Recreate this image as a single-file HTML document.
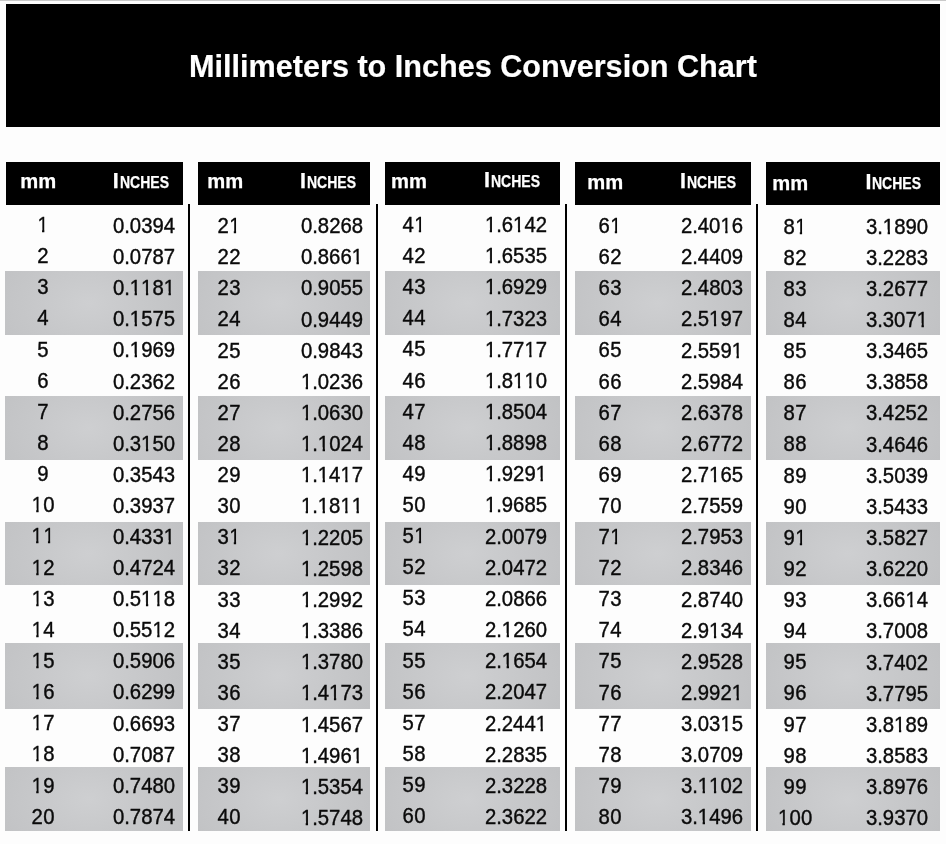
<!DOCTYPE html>
<html><head><meta charset="utf-8"><title>Millimeters to Inches Conversion Chart</title>
<style>
html,body{margin:0;padding:0;}
body{width:946px;height:844px;background:#fdfdfd;position:relative;overflow:hidden;font-family:"Liberation Sans",sans-serif;color:#0a0a0a;}
.a{position:absolute;}
.topline{left:0;top:0;width:946px;height:1px;background:#c9c9c9;}
.banner{left:6px;top:4px;width:934px;height:122.6px;background:#000;}
.title{left:0;top:45.8px;width:946px;text-align:center;color:#fff;font-weight:bold;-webkit-text-stroke:0.2px #fff;font-size:30.6px;line-height:40px;white-space:nowrap;}
.hd{background:#000;top:162px;height:42.7px;}
.band{background:radial-gradient(ellipse 68% 125% at 47% 50%,#cecfd1 0%,#c6c7c9 50%,#bfc0c2 100%);}
.vl{background:#000;width:2px;top:204.1px;height:627.2px;}
.t{font-size:21.6px;line-height:30px;height:30px;white-space:nowrap;-webkit-text-stroke:0.4px #0a0a0a;}
.m{text-align:center;width:60px;letter-spacing:0.3px;text-indent:0.3px;transform:scaleX(0.94);transform-origin:50% 50%;}
.i{text-align:right;width:90px;transform:scaleX(0.94);transform-origin:100% 50%;}
.o{display:inline-block;clip-path:polygon(0 0,0.352em 0,0.352em 100%,0.238em 100%,0.238em 60%,0 60%);}
.h{color:#fff;font-weight:bold;-webkit-text-stroke:0.25px #fff;line-height:30px;height:30px;white-space:nowrap;}
.hm{font-size:20.2px;}
.hi{font-size:21.5px;}
.sc{font-size:15.7px;transform:scaleX(0.893);transform-origin:0 50%;}
#w{position:absolute;left:0;top:0;width:946px;height:844px;will-change:transform;}
</style></head><body><div id="w">
<div class="a topline"></div>
<div class="a banner"></div>
<div class="a title">Millimeters to Inches Conversion Chart</div>

<div class="a hd" style="left:6px;width:176.9px"></div>
<div class="a band" style="left:5px;width:177.9px;top:271.2px;height:63.6px"></div>
<div class="a band" style="left:5px;width:177.9px;top:396px;height:63.6px"></div>
<div class="a band" style="left:5px;width:177.9px;top:521.9px;height:63.6px"></div>
<div class="a band" style="left:5px;width:177.9px;top:642.9px;height:65.7px"></div>
<div class="a band" style="left:5px;width:177.9px;top:767.1px;height:64.4px"></div>
<div class="a h hm" style="left:20.20px;top:166.10px">mm</div>
<div class="a h hi" style="left:112.70px;top:165.65px">I</div>
<div class="a h sc" style="left:119.50px;top:167.66px">NCHES</div>
<div class="a t m" style="left:12.6px;top:210.02px"><span class="o">1</span></div>
<div class="a t i" style="left:85.3px;top:211.02px">0.0394</div>
<div class="a t m" style="left:12.6px;top:241.16px">2</div>
<div class="a t i" style="left:85.3px;top:242.11px">0.0787</div>
<div class="a t m" style="left:12.6px;top:272.31px">3</div>
<div class="a t i" style="left:85.3px;top:273.21px">0.<span class="o">1</span><span class="o">1</span>8<span class="o">1</span></div>
<div class="a t m" style="left:12.6px;top:303.45px">4</div>
<div class="a t i" style="left:85.3px;top:304.31px">0.<span class="o">1</span>575</div>
<div class="a t m" style="left:12.6px;top:334.59px">5</div>
<div class="a t i" style="left:85.3px;top:335.41px">0.<span class="o">1</span>969</div>
<div class="a t m" style="left:12.6px;top:365.74px">6</div>
<div class="a t i" style="left:85.3px;top:366.50px">0.2362</div>
<div class="a t m" style="left:12.6px;top:396.88px">7</div>
<div class="a t i" style="left:85.3px;top:397.60px">0.2756</div>
<div class="a t m" style="left:12.6px;top:428.03px">8</div>
<div class="a t i" style="left:85.3px;top:428.70px">0.3<span class="o">1</span>50</div>
<div class="a t m" style="left:12.6px;top:459.17px">9</div>
<div class="a t i" style="left:85.3px;top:459.79px">0.3543</div>
<div class="a t m" style="left:12.6px;top:490.32px"><span class="o">1</span>0</div>
<div class="a t i" style="left:85.3px;top:490.89px">0.3937</div>
<div class="a t m" style="left:12.6px;top:521.46px"><span class="o">1</span><span class="o">1</span></div>
<div class="a t i" style="left:85.3px;top:521.99px">0.433<span class="o">1</span></div>
<div class="a t m" style="left:12.6px;top:552.61px"><span class="o">1</span>2</div>
<div class="a t i" style="left:85.3px;top:553.09px">0.4724</div>
<div class="a t m" style="left:12.6px;top:583.75px"><span class="o">1</span>3</div>
<div class="a t i" style="left:85.3px;top:584.18px">0.5<span class="o">1</span><span class="o">1</span>8</div>
<div class="a t m" style="left:12.6px;top:614.90px"><span class="o">1</span>4</div>
<div class="a t i" style="left:85.3px;top:615.28px">0.55<span class="o">1</span>2</div>
<div class="a t m" style="left:12.6px;top:646.04px"><span class="o">1</span>5</div>
<div class="a t i" style="left:85.3px;top:646.38px">0.5906</div>
<div class="a t m" style="left:12.6px;top:677.19px"><span class="o">1</span>6</div>
<div class="a t i" style="left:85.3px;top:677.48px">0.6299</div>
<div class="a t m" style="left:12.6px;top:708.33px"><span class="o">1</span>7</div>
<div class="a t i" style="left:85.3px;top:708.57px">0.6693</div>
<div class="a t m" style="left:12.6px;top:739.48px"><span class="o">1</span>8</div>
<div class="a t i" style="left:85.3px;top:739.67px">0.7087</div>
<div class="a t m" style="left:12.6px;top:770.62px"><span class="o">1</span>9</div>
<div class="a t i" style="left:85.3px;top:770.77px">0.7480</div>
<div class="a t m" style="left:12.6px;top:801.77px">20</div>
<div class="a t i" style="left:85.3px;top:801.87px">0.7874</div>
<div class="a hd" style="left:198.1px;width:171.9px"></div>
<div class="a band" style="left:198.1px;width:171.9px;top:271.2px;height:63.6px"></div>
<div class="a band" style="left:198.1px;width:171.9px;top:396px;height:63.6px"></div>
<div class="a band" style="left:198.1px;width:171.9px;top:521.9px;height:63.6px"></div>
<div class="a band" style="left:198.1px;width:171.9px;top:642.9px;height:65.7px"></div>
<div class="a band" style="left:198.1px;width:171.9px;top:767.1px;height:64.4px"></div>
<div class="a h hm" style="left:207.20px;top:166.40px">mm</div>
<div class="a h hi" style="left:300.10px;top:165.95px">I</div>
<div class="a h sc" style="left:306.90px;top:167.96px">NCHES</div>
<div class="a t m" style="left:199px;top:211.02px">2<span class="o">1</span></div>
<div class="a t i" style="left:272.7px;top:211.02px">0.8268</div>
<div class="a t m" style="left:199px;top:242.14px">22</div>
<div class="a t i" style="left:272.7px;top:242.18px">0.866<span class="o">1</span></div>
<div class="a t m" style="left:199px;top:273.27px">23</div>
<div class="a t i" style="left:272.7px;top:273.34px">0.9055</div>
<div class="a t m" style="left:199px;top:304.40px">24</div>
<div class="a t i" style="left:272.7px;top:304.50px">0.9449</div>
<div class="a t m" style="left:199px;top:335.53px">25</div>
<div class="a t i" style="left:272.7px;top:335.66px">0.9843</div>
<div class="a t m" style="left:199px;top:366.66px">26</div>
<div class="a t i" style="left:272.7px;top:366.82px"><span class="o">1</span>.0236</div>
<div class="a t m" style="left:199px;top:397.79px">27</div>
<div class="a t i" style="left:272.7px;top:397.98px"><span class="o">1</span>.0630</div>
<div class="a t m" style="left:199px;top:428.92px">28</div>
<div class="a t i" style="left:272.7px;top:429.14px"><span class="o">1</span>.<span class="o">1</span>024</div>
<div class="a t m" style="left:199px;top:460.05px">29</div>
<div class="a t i" style="left:272.7px;top:460.30px"><span class="o">1</span>.<span class="o">1</span>4<span class="o">1</span>7</div>
<div class="a t m" style="left:199px;top:491.18px">30</div>
<div class="a t i" style="left:272.7px;top:491.46px"><span class="o">1</span>.<span class="o">1</span>8<span class="o">1</span><span class="o">1</span></div>
<div class="a t m" style="left:199px;top:522.31px">3<span class="o">1</span></div>
<div class="a t i" style="left:272.7px;top:522.62px"><span class="o">1</span>.2205</div>
<div class="a t m" style="left:199px;top:553.43px">32</div>
<div class="a t i" style="left:272.7px;top:553.78px"><span class="o">1</span>.2598</div>
<div class="a t m" style="left:199px;top:584.56px">33</div>
<div class="a t i" style="left:272.7px;top:584.94px"><span class="o">1</span>.2992</div>
<div class="a t m" style="left:199px;top:615.69px">34</div>
<div class="a t i" style="left:272.7px;top:616.10px"><span class="o">1</span>.3386</div>
<div class="a t m" style="left:199px;top:646.82px">35</div>
<div class="a t i" style="left:272.7px;top:647.26px"><span class="o">1</span>.3780</div>
<div class="a t m" style="left:199px;top:677.95px">36</div>
<div class="a t i" style="left:272.7px;top:678.42px"><span class="o">1</span>.4<span class="o">1</span>73</div>
<div class="a t m" style="left:199px;top:709.08px">37</div>
<div class="a t i" style="left:272.7px;top:709.58px"><span class="o">1</span>.4567</div>
<div class="a t m" style="left:199px;top:740.21px">38</div>
<div class="a t i" style="left:272.7px;top:740.74px"><span class="o">1</span>.496<span class="o">1</span></div>
<div class="a t m" style="left:199px;top:771.34px">39</div>
<div class="a t i" style="left:272.7px;top:771.91px"><span class="o">1</span>.5354</div>
<div class="a t m" style="left:199px;top:802.47px">40</div>
<div class="a t i" style="left:272.7px;top:803.07px"><span class="o">1</span>.5748</div>
<div class="a hd" style="left:385px;width:174.9px"></div>
<div class="a band" style="left:385px;width:174.9px;top:271.2px;height:63.6px"></div>
<div class="a band" style="left:385px;width:174.9px;top:396px;height:63.6px"></div>
<div class="a band" style="left:385px;width:174.9px;top:521.9px;height:63.6px"></div>
<div class="a band" style="left:385px;width:174.9px;top:642.9px;height:65.7px"></div>
<div class="a band" style="left:385px;width:174.9px;top:767.1px;height:64.4px"></div>
<div class="a h hm" style="left:391.10px;top:165.70px">mm</div>
<div class="a h hi" style="left:484.00px;top:165.25px">I</div>
<div class="a h sc" style="left:490.80px;top:167.26px">NCHES</div>
<div class="a t m" style="left:384px;top:210.02px">4<span class="o">1</span></div>
<div class="a t i" style="left:457.4px;top:210.02px"><span class="o">1</span>.6<span class="o">1</span>42</div>
<div class="a t m" style="left:384px;top:241.12px">42</div>
<div class="a t i" style="left:457.4px;top:241.18px"><span class="o">1</span>.6535</div>
<div class="a t m" style="left:384px;top:272.23px">43</div>
<div class="a t i" style="left:457.4px;top:272.34px"><span class="o">1</span>.6929</div>
<div class="a t m" style="left:384px;top:303.34px">44</div>
<div class="a t i" style="left:457.4px;top:303.50px"><span class="o">1</span>.7323</div>
<div class="a t m" style="left:384px;top:334.45px">45</div>
<div class="a t i" style="left:457.4px;top:334.66px"><span class="o">1</span>.77<span class="o">1</span>7</div>
<div class="a t m" style="left:384px;top:365.56px">46</div>
<div class="a t i" style="left:457.4px;top:365.82px"><span class="o">1</span>.8<span class="o">1</span><span class="o">1</span>0</div>
<div class="a t m" style="left:384px;top:396.66px">47</div>
<div class="a t i" style="left:457.4px;top:396.98px"><span class="o">1</span>.8504</div>
<div class="a t m" style="left:384px;top:427.77px">48</div>
<div class="a t i" style="left:457.4px;top:428.14px"><span class="o">1</span>.8898</div>
<div class="a t m" style="left:384px;top:458.88px">49</div>
<div class="a t i" style="left:457.4px;top:459.30px"><span class="o">1</span>.929<span class="o">1</span></div>
<div class="a t m" style="left:384px;top:489.99px">50</div>
<div class="a t i" style="left:457.4px;top:490.46px"><span class="o">1</span>.9685</div>
<div class="a t m" style="left:384px;top:521.09px">5<span class="o">1</span></div>
<div class="a t i" style="left:457.4px;top:521.62px">2.0079</div>
<div class="a t m" style="left:384px;top:552.20px">52</div>
<div class="a t i" style="left:457.4px;top:552.78px">2.0472</div>
<div class="a t m" style="left:384px;top:583.31px">53</div>
<div class="a t i" style="left:457.4px;top:583.94px">2.0866</div>
<div class="a t m" style="left:384px;top:614.42px">54</div>
<div class="a t i" style="left:457.4px;top:615.10px">2.<span class="o">1</span>260</div>
<div class="a t m" style="left:384px;top:645.53px">55</div>
<div class="a t i" style="left:457.4px;top:646.26px">2.<span class="o">1</span>654</div>
<div class="a t m" style="left:384px;top:676.63px">56</div>
<div class="a t i" style="left:457.4px;top:677.42px">2.2047</div>
<div class="a t m" style="left:384px;top:707.74px">57</div>
<div class="a t i" style="left:457.4px;top:708.58px">2.244<span class="o">1</span></div>
<div class="a t m" style="left:384px;top:738.85px">58</div>
<div class="a t i" style="left:457.4px;top:739.74px">2.2835</div>
<div class="a t m" style="left:384px;top:769.96px">59</div>
<div class="a t i" style="left:457.4px;top:770.91px">2.3228</div>
<div class="a t m" style="left:384px;top:801.07px">60</div>
<div class="a t i" style="left:457.4px;top:802.07px">2.3622</div>
<div class="a hd" style="left:575px;width:175.9px"></div>
<div class="a band" style="left:575px;width:175.9px;top:271.2px;height:63.6px"></div>
<div class="a band" style="left:575px;width:175.9px;top:396px;height:63.6px"></div>
<div class="a band" style="left:575px;width:175.9px;top:521.9px;height:63.6px"></div>
<div class="a band" style="left:575px;width:175.9px;top:642.9px;height:65.7px"></div>
<div class="a band" style="left:575px;width:175.9px;top:767.1px;height:64.4px"></div>
<div class="a h hm" style="left:587.20px;top:166.90px">mm</div>
<div class="a h hi" style="left:680.10px;top:166.45px">I</div>
<div class="a h sc" style="left:686.90px;top:168.46px">NCHES</div>
<div class="a t m" style="left:579.8px;top:211.02px">6<span class="o">1</span></div>
<div class="a t i" style="left:652.9px;top:211.02px">2.40<span class="o">1</span>6</div>
<div class="a t m" style="left:579.8px;top:242.12px">62</div>
<div class="a t i" style="left:652.9px;top:242.14px">2.4409</div>
<div class="a t m" style="left:579.8px;top:273.22px">63</div>
<div class="a t i" style="left:652.9px;top:273.26px">2.4803</div>
<div class="a t m" style="left:579.8px;top:304.32px">64</div>
<div class="a t i" style="left:652.9px;top:304.39px">2.5<span class="o">1</span>97</div>
<div class="a t m" style="left:579.8px;top:335.43px">65</div>
<div class="a t i" style="left:652.9px;top:335.51px">2.559<span class="o">1</span></div>
<div class="a t m" style="left:579.8px;top:366.53px">66</div>
<div class="a t i" style="left:652.9px;top:366.63px">2.5984</div>
<div class="a t m" style="left:579.8px;top:397.63px">67</div>
<div class="a t i" style="left:652.9px;top:397.76px">2.6378</div>
<div class="a t m" style="left:579.8px;top:428.73px">68</div>
<div class="a t i" style="left:652.9px;top:428.88px">2.6772</div>
<div class="a t m" style="left:579.8px;top:459.84px">69</div>
<div class="a t i" style="left:652.9px;top:460.01px">2.7<span class="o">1</span>65</div>
<div class="a t m" style="left:579.8px;top:490.94px">70</div>
<div class="a t i" style="left:652.9px;top:491.13px">2.7559</div>
<div class="a t m" style="left:579.8px;top:522.04px">7<span class="o">1</span></div>
<div class="a t i" style="left:652.9px;top:522.25px">2.7953</div>
<div class="a t m" style="left:579.8px;top:553.14px">72</div>
<div class="a t i" style="left:652.9px;top:553.38px">2.8346</div>
<div class="a t m" style="left:579.8px;top:584.25px">73</div>
<div class="a t i" style="left:652.9px;top:584.50px">2.8740</div>
<div class="a t m" style="left:579.8px;top:615.35px">74</div>
<div class="a t i" style="left:652.9px;top:615.62px">2.9<span class="o">1</span>34</div>
<div class="a t m" style="left:579.8px;top:646.45px">75</div>
<div class="a t i" style="left:652.9px;top:646.75px">2.9528</div>
<div class="a t m" style="left:579.8px;top:677.56px">76</div>
<div class="a t i" style="left:652.9px;top:677.87px">2.992<span class="o">1</span></div>
<div class="a t m" style="left:579.8px;top:708.66px">77</div>
<div class="a t i" style="left:652.9px;top:708.99px">3.03<span class="o">1</span>5</div>
<div class="a t m" style="left:579.8px;top:739.76px">78</div>
<div class="a t i" style="left:652.9px;top:740.12px">3.0709</div>
<div class="a t m" style="left:579.8px;top:770.86px">79</div>
<div class="a t i" style="left:652.9px;top:771.24px">3.<span class="o">1</span><span class="o">1</span>02</div>
<div class="a t m" style="left:579.8px;top:801.97px">80</div>
<div class="a t i" style="left:652.9px;top:802.37px">3.<span class="o">1</span>496</div>
<div class="a hd" style="left:766.1px;width:173.9px"></div>
<div class="a band" style="left:766.1px;width:173.9px;top:271.2px;height:63.6px"></div>
<div class="a band" style="left:766.1px;width:173.9px;top:396px;height:63.6px"></div>
<div class="a band" style="left:766.1px;width:173.9px;top:521.9px;height:63.6px"></div>
<div class="a band" style="left:766.1px;width:173.9px;top:642.9px;height:65.7px"></div>
<div class="a band" style="left:766.1px;width:173.9px;top:767.1px;height:64.4px"></div>
<div class="a h hm" style="left:772.30px;top:167.60px">mm</div>
<div class="a h hi" style="left:865.40px;top:167.15px">I</div>
<div class="a h sc" style="left:872.20px;top:169.16px">NCHES</div>
<div class="a t m" style="left:764.8px;top:211.62px">8<span class="o">1</span></div>
<div class="a t i" style="left:838px;top:211.62px">3.<span class="o">1</span>890</div>
<div class="a t m" style="left:764.8px;top:242.73px">82</div>
<div class="a t i" style="left:838px;top:242.76px">3.2283</div>
<div class="a t m" style="left:764.8px;top:273.85px">83</div>
<div class="a t i" style="left:838px;top:273.89px">3.2677</div>
<div class="a t m" style="left:764.8px;top:304.97px">84</div>
<div class="a t i" style="left:838px;top:305.03px">3.307<span class="o">1</span></div>
<div class="a t m" style="left:764.8px;top:336.09px">85</div>
<div class="a t i" style="left:838px;top:336.17px">3.3465</div>
<div class="a t m" style="left:764.8px;top:367.21px">86</div>
<div class="a t i" style="left:838px;top:367.31px">3.3858</div>
<div class="a t m" style="left:764.8px;top:398.33px">87</div>
<div class="a t i" style="left:838px;top:398.45px">3.4252</div>
<div class="a t m" style="left:764.8px;top:429.44px">88</div>
<div class="a t i" style="left:838px;top:429.59px">3.4646</div>
<div class="a t m" style="left:764.8px;top:460.56px">89</div>
<div class="a t i" style="left:838px;top:460.73px">3.5039</div>
<div class="a t m" style="left:764.8px;top:491.68px">90</div>
<div class="a t i" style="left:838px;top:491.87px">3.5433</div>
<div class="a t m" style="left:764.8px;top:522.80px">9<span class="o">1</span></div>
<div class="a t i" style="left:838px;top:523.01px">3.5827</div>
<div class="a t m" style="left:764.8px;top:553.92px">92</div>
<div class="a t i" style="left:838px;top:554.15px">3.6220</div>
<div class="a t m" style="left:764.8px;top:585.04px">93</div>
<div class="a t i" style="left:838px;top:585.29px">3.66<span class="o">1</span>4</div>
<div class="a t m" style="left:764.8px;top:616.16px">94</div>
<div class="a t i" style="left:838px;top:616.43px">3.7008</div>
<div class="a t m" style="left:764.8px;top:647.27px">95</div>
<div class="a t i" style="left:838px;top:647.57px">3.7402</div>
<div class="a t m" style="left:764.8px;top:678.39px">96</div>
<div class="a t i" style="left:838px;top:678.71px">3.7795</div>
<div class="a t m" style="left:764.8px;top:709.51px">97</div>
<div class="a t i" style="left:838px;top:709.85px">3.8<span class="o">1</span>89</div>
<div class="a t m" style="left:764.8px;top:740.63px">98</div>
<div class="a t i" style="left:838px;top:740.99px">3.8583</div>
<div class="a t m" style="left:764.8px;top:771.75px">99</div>
<div class="a t i" style="left:838px;top:772.13px">3.8976</div>
<div class="a t m" style="left:764.8px;top:802.87px"><span class="o">1</span>00</div>
<div class="a t i" style="left:838px;top:803.27px">3.9370</div>
<div class="a vl" style="left:188px"></div>
<div class="a vl" style="left:376px"></div>
<div class="a vl" style="left:565px"></div>
<div class="a vl" style="left:756px"></div>
</div></body></html>
